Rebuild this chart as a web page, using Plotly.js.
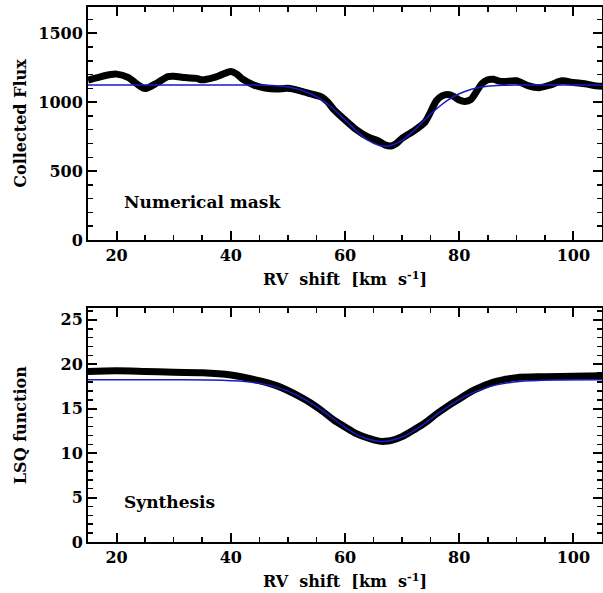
<!DOCTYPE html>
<html>
<head>
<meta charset="utf-8">
<script src="https://cdn.plot.ly/plotly-3.0.1.min.js"></script>
<style>html,body{margin:0;padding:0;background:#fff;}#chart{width:603px;height:593px;}</style>
</head>
<body>
<div id="chart"></div>
<script>
// Top panel: numerical mask (collected flux)
var maskRV = [15,17,19,20,22,24,25,27,29,30,32,34,35,37,38,40,41,42,44,46,48,50,52,54,56,57,58,60,62,64,66,67,68,69,70,72,74,75,76,77,78,79,80,81,82,83,84,85,86,87,88,90,92,94,96,98,100,102,104,105];
var maskFlux = [1160,1182,1200,1203,1180,1118,1098,1137,1185,1188,1178,1172,1162,1178,1192,1222,1205,1168,1125,1102,1095,1100,1084,1060,1035,1000,948,871,800,748,715,690,682,700,738,790,855,930,1010,1045,1055,1042,1015,1005,1018,1075,1135,1162,1166,1152,1150,1155,1120,1105,1125,1155,1142,1133,1118,1115];
var maskFitRV = [15,40,44,46,48,50,52,54,56,58,60,62,64,66,67,68,70,72,74,76,78,80,82,84,86,88,90,105];
var maskFit = [1125,1125,1124,1122,1118,1109,1092,1061,1014,950,872,791,724,685,680,685,724,791,872,950,1014,1061,1092,1109,1118,1122,1124,1125];

// Bottom panel: synthesis (LSQ function)
var synRV = [15,20,25,30,35,40,44,48,52,54,56,58,60,62,64,66,67,68,70,72,74,76,78,80,82,84,86,88,90,95,100,105];
var synLSQ = [19.2,19.27,19.2,19.1,19.05,18.8,18.3,17.6,16.4,15.65,14.75,13.75,12.95,12.2,11.7,11.35,11.33,11.4,11.86,12.6,13.4,14.4,15.3,16.1,16.9,17.5,18.0,18.3,18.5,18.6,18.65,18.7];
var synFitRV = [15,30,36,40,44,48,52,56,60,63,66.5,70,73,77,81,85,89,93,97,105];
var synFit = [18.25,18.25,18.23,18.16,17.96,17.43,16.38,14.78,12.91,11.81,11.3,11.81,12.91,14.78,16.38,17.43,17.96,18.16,18.23,18.25];

var xTicks = [20,40,60,80,100];
var xTickText = ['20','40','60','80','100'];
var fluxTicks = [0,500,1000,1500];
var lsqTicks = [0,5,10,15,20,25];

var tickFont = {family: 'DejaVu Serif', size: 16, color: '#000', weight: 'bold'};
var titleFont = {family: 'DejaVu Serif', size: 16, color: '#000', weight: 'bold'};
var yTitleFont = {family: 'DejaVu Serif', size: 16, color: '#000', weight: 'bold'};
var noteFont = {family: 'DejaVu Serif', size: 17, color: '#000', weight: 'bold'};

var xTitle = 'RV\u00A0 shift\u00A0 [km\u00A0 s<sup>-1</sup>]';

function xax(anchor) {
  return {
    anchor: anchor, range: [15,105], domain: [0,1],
    tickvals: xTicks, ticktext: xTickText,
    ticks: 'inside', ticklen: 9, tickwidth: 2, tickcolor: '#000',
    minor: {dtick: 5, tick0: 0, ticks: 'inside', ticklen: 5, tickwidth: 1.5, tickcolor: '#000'},
    showline: true, linewidth: 2, linecolor: '#000', mirror: 'allticks',
    showgrid: false, zeroline: false,
    tickfont: tickFont,
    title: {text: xTitle, font: titleFont, standoff: 10}
  };
}

var traces = [
  {x: maskRV, y: maskFlux, xaxis: 'x', yaxis: 'y', mode: 'lines', line: {color: '#000', width: 7, shape: 'spline', smoothing: 0.8}, hoverinfo: 'skip'},
  {x: maskFitRV, y: maskFit, xaxis: 'x', yaxis: 'y', mode: 'lines', line: {color: '#1a1ac8', width: 1.5, shape: 'spline'}, hoverinfo: 'skip'},
  {x: synRV, y: synLSQ, xaxis: 'x2', yaxis: 'y2', mode: 'lines', line: {color: '#000', width: 7, shape: 'spline'}, hoverinfo: 'skip'},
  {x: synFitRV, y: synFit, xaxis: 'x2', yaxis: 'y2', mode: 'lines', line: {color: '#1a1ac8', width: 1.5, shape: 'spline'}, hoverinfo: 'skip'}
];

var layout = {
  width: 603, height: 593,
  margin: {l: 88, r: 1, t: 7, b: 51},
  paper_bgcolor: '#fff', plot_bgcolor: '#fff',
  showlegend: false,
  xaxis: xax('y'),
  xaxis2: xax('y2'),
  yaxis: {
    anchor: 'x', domain: [0.5645, 1], range: [0, 1690],
    tickvals: fluxTicks,
    ticks: 'inside', ticklen: 9, tickwidth: 2, tickcolor: '#000',
    minor: {dtick: 100, tick0: 0, ticks: 'inside', ticklen: 5, tickwidth: 1.5, tickcolor: '#000'},
    showline: true, linewidth: 2, linecolor: '#000', mirror: 'allticks',
    showgrid: false, zeroline: false,
    tickfont: tickFont,
    title: {text: 'Collected Flux', font: yTitleFont, standoff: 8}
  },
  yaxis2: {
    anchor: 'x2', domain: [0, 0.4368], range: [0, 26.3],
    tickvals: lsqTicks,
    ticks: 'inside', ticklen: 9, tickwidth: 2, tickcolor: '#000',
    minor: {dtick: 1, tick0: 0, ticks: 'inside', ticklen: 5, tickwidth: 1.5, tickcolor: '#000'},
    showline: true, linewidth: 2, linecolor: '#000', mirror: 'allticks',
    showgrid: false, zeroline: false,
    tickfont: tickFont,
    title: {text: 'LSQ function', font: yTitleFont, standoff: 30}
  },
  annotations: [
    {xref: 'x', yref: 'y', x: 21.0, y: 276, text: 'Numerical mask', showarrow: false, xanchor: 'left', yanchor: 'middle', font: noteFont},
    {xref: 'x2', yref: 'y2', x: 21.0, y: 4.47, text: 'Synthesis', showarrow: false, xanchor: 'left', yanchor: 'middle', font: noteFont}
  ]
};

Plotly.newPlot('chart', traces, layout, {displayModeBar: false, staticPlot: true});
</script>
</body>
</html>
